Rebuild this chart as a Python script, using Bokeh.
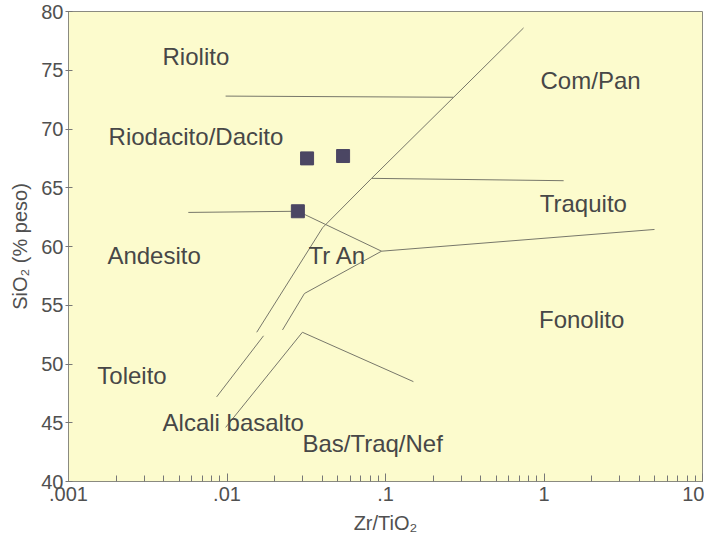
from bokeh.plotting import figure
from bokeh.models import FixedTicker, ColumnDataSource
from bokeh.embed import file_html
from bokeh.resources import INLINE
from bokeh.core.properties import value

# ---- axes ----
x_ticks = [0.001, 0.01, 0.1, 1, 10]
x_tick_labels = [".001", ".01", ".1", "1", "10"]
y_ticks = [40, 45, 50, 55, 60, 65, 70, 75, 80]

# ---- field boundaries (Zr/TiO2, SiO2) ----
riolite_x = [0.0098, 0.269]
riolite_y = [72.8, 72.7]
main_x = [0.0154, 0.0401, 0.0817, 0.269, 0.743]
main_y = [52.7, 61.6, 65.8, 72.7, 78.6]
andesite_x = [0.0057, 0.028, 0.0944]
andesite_y = [62.9, 63.0, 59.6]
tran_upper_x = [0.0944, 4.98]
tran_upper_y = [59.6, 61.45]
tran_lower_x = [0.0944, 0.0308, 0.0224]
tran_lower_y = [59.6, 56.0, 52.9]
trachyte_x = [0.0817, 1.33]
trachyte_y = [65.8, 65.6]
basalt_a_x = [0.0170, 0.0086]
basalt_a_y = [52.4, 47.2]
basalt_b_x = [0.0098, 0.0299, 0.150]
basalt_b_y = [44.6, 52.7, 48.5]

# ---- samples ----
sample_x = [0.028, 0.032, 0.054]
sample_y = [63.0, 67.5, 67.7]

# ---- field names ----
field_names = ["Riolito", "Riodacito/Dacito", "Andesito", "Tr An", "Com/Pan",
               "Traquito", "Fonolito", "Toleito", "Alcali basalto", "Bas/Traq/Nef"]
field_x = [0.00392, 0.00179, 0.00176, 0.0327, 0.951, 0.94, 0.93, 0.00152, 0.00392, 0.0299]
field_y = [76.2, 69.4, 59.2, 59.2, 74.1, 63.7, 53.8, 49.0, 45.0, 43.2]

p = figure(x_axis_type="log", x_range=(0.001, 10), y_range=(40, 80),
           frame_width=634, frame_height=470,
           min_border_left=68, min_border_top=11, min_border_right=2, min_border_bottom=56,
           output_backend="svg", toolbar_location=None)

p.background_fill_color = "#fcfbcd"
p.border_fill_color = "white"
p.outline_line_color = "#8a8a80"
p.outline_line_width = 1
p.xgrid.visible = False
p.ygrid.visible = False

minor = [t * m for t in x_ticks[:-1] for m in range(2, 10)]
p.xaxis.ticker = FixedTicker(ticks=x_ticks, minor_ticks=minor)
p.xaxis.major_label_overrides = {t: l for t, l in zip(x_ticks, x_tick_labels)}
p.yaxis.ticker = FixedTicker(ticks=y_ticks)

for ax in (p.xaxis[0], p.yaxis[0]):
    ax.axis_line_color = "#8a8a80"
    ax.major_tick_line_color = "#777"
    ax.minor_tick_line_color = "#777"
    ax.major_label_text_font = "Liberation Sans"
    ax.major_label_text_font_size = "20px"
    ax.major_label_text_color = "#505050"
    ax.axis_label_text_font = "Liberation Sans"
    ax.axis_label_text_font_size = "20px"
    ax.axis_label_text_font_style = "normal"
    ax.axis_label_text_color = "#505050"

p.xaxis.major_tick_in = 8
p.xaxis.major_tick_out = 0
p.xaxis.minor_tick_in = 6
p.xaxis.minor_tick_out = 0
p.xaxis.major_label_standoff = 5
p.xaxis.axis_label = "Zr/TiO₂"
p.xaxis.axis_label_standoff = 8

p.yaxis.major_tick_in = 4
p.yaxis.major_tick_out = 3
p.yaxis.minor_tick_in = 0
p.yaxis.minor_tick_out = 0
p.yaxis.major_label_standoff = 2
p.yaxis.axis_label = "SiO₂ (% peso)"
p.yaxis.axis_label_standoff = 7

line_color = "#77776a"
for xs, ys in [(riolite_x, riolite_y), (main_x, main_y), (andesite_x, andesite_y),
               (tran_upper_x, tran_upper_y), (tran_lower_x, tran_lower_y),
               (trachyte_x, trachyte_y), (basalt_a_x, basalt_a_y), (basalt_b_x, basalt_b_y)]:
    p.line(xs, ys, line_color=line_color, line_width=1)

p.scatter(sample_x, sample_y, marker="square", size=13,
          fill_color="#4b4663", line_color="#4b4663")

src = ColumnDataSource(dict(x=field_x, y=field_y, t=field_names))
p.text(x="x", y="y", text="t", source=src, text_font=value("Liberation Sans"),
       text_font_size="24px", text_align="left", text_baseline="middle",
       text_color="#474747")

open("out.html", "w").write(file_html(p, INLINE))
